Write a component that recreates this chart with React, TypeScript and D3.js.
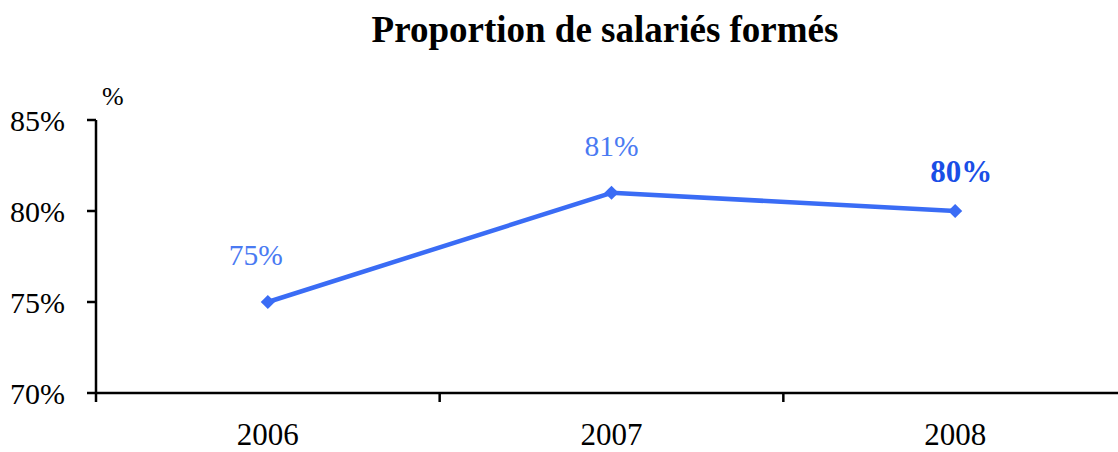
import React from 'react';
import * as d3 from 'd3';

const years = ['2006', '2007', '2008'];
const values = [75, 81, 80];
const yTicks = [70, 75, 80, 85];
const labelDx = [-12, 0, 6];
const labelBold = [false, false, true];

const width = 1118;
const height = 452;
const margin = { top: 120, right: -9, bottom: 59, left: 96 };
const font = '"Liberation Serif", "Times New Roman", serif';

const App: React.FC = () => {
  const innerWidth = width - margin.left - margin.right;
  const innerHeight = height - margin.top - margin.bottom;

  const x = d3.scaleBand().domain(years).range([0, innerWidth]);
  const y = d3.scaleLinear().domain([70, 85]).range([innerHeight, 0]);

  const line = d3.line<number>()
    .x((_, i) => (x(years[i]) ?? 0) + x.bandwidth() / 2)
    .y(d => y(d));

  // rotated square marker
  const marker = d3.symbol().type(d3.symbolSquare).size(100)() ?? '';

  return (
    <svg width={width} height={height} style={{ position: 'absolute', left: 0, top: 0, background: '#fff' }}>
      <text x={605} y={42} textAnchor="middle" fontFamily={font} fontSize={37} fontWeight="bold" fill="#000">
        Proportion de salariés formés
      </text>
      <g transform={`translate(${margin.left}, ${margin.top})`}>
        {/* y axis */}
        <line x1={0} y1={0} x2={0} y2={innerHeight + 9} stroke="#000" strokeWidth={2.5} />
        {yTicks.map(t => (
          <g key={t}>
            <line x1={-9} y1={y(t)} x2={0} y2={y(t)} stroke="#000" strokeWidth={2.5} />
            <text x={-31} y={y(t) + 11} textAnchor="end" fontFamily={font} fontSize={30} fill="#000">
              {t}%
            </text>
          </g>
        ))}
        <text x={6} y={-15} fontFamily={font} fontSize={26} fill="#000">%</text>

        {/* x axis */}
        <line x1={0} y1={innerHeight} x2={innerWidth} y2={innerHeight} stroke="#000" strokeWidth={2.5} />
        {years.map((yr, i) => (
          <g key={yr}>
            {i > 0 && (
              <line x1={x(yr)} y1={innerHeight} x2={x(yr)} y2={innerHeight + 9} stroke="#000" strokeWidth={2.5} />
            )}
            <text
              x={(x(yr) ?? 0) + x.bandwidth() / 2}
              y={innerHeight + 52}
              textAnchor="middle"
              fontFamily={font}
              fontSize={31}
              fill="#000"
            >
              {yr}
            </text>
          </g>
        ))}

        {/* series */}
        <path d={line(values) ?? ''} fill="none" stroke="#3a6cf5" strokeWidth={4.5} strokeLinejoin="round" />
        {values.map((v, i) => {
          const cx = (x(years[i]) ?? 0) + x.bandwidth() / 2;
          return (
            <g key={i}>
              <path d={marker} transform={`translate(${cx}, ${y(v)}) rotate(45)`} fill="#3a6cf5" />
              <text
                x={cx + labelDx[i]}
                y={y(v) - (labelBold[i] ? 29 : 37)}
                textAnchor="middle"
                fontFamily={font}
                fontSize={labelBold[i] ? 31 : 29.5}
                fontWeight={labelBold[i] ? 'bold' : 'normal'}
                fill={labelBold[i] ? '#1a4ee6' : '#4a7af2'}
              >
                {v}%
              </text>
            </g>
          );
        })}
      </g>
    </svg>
  );
};

export default App;
